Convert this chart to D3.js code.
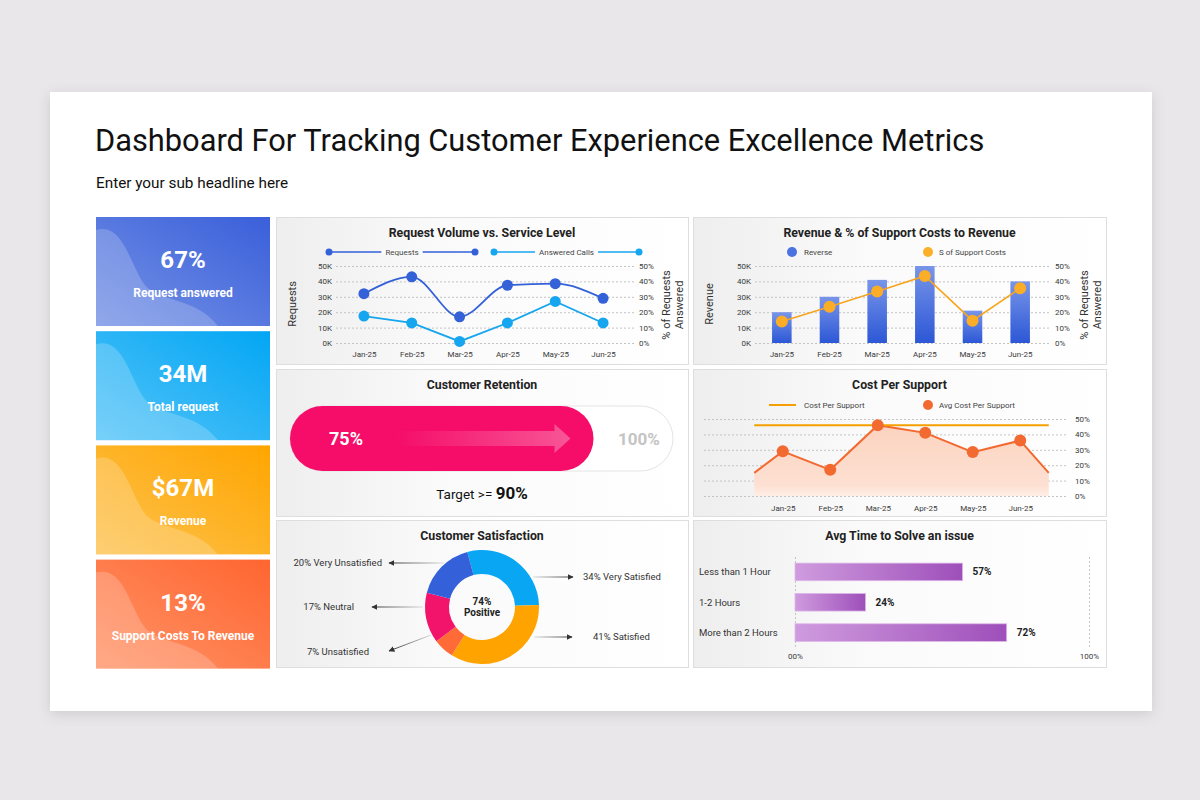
<!DOCTYPE html>
<html>
<head>
<meta charset="utf-8">
<script src="https://cdn.jsdelivr.net/npm/d3@7"></script>
<style>
  html, body { margin: 0; padding: 0; background: #e9e7e9; }
  svg { display: block; }
  svg text { font-family: Roboto, "Noto Sans", sans-serif; }
  .tick text { font-size: 8px; fill: #3a3a3a; }
  .grid line { stroke: #c4c4c4; stroke-dasharray: 2,2; }
  .grid text { display: none; }
  .domain { display: none; }
  .ptitle { font-size: 12.3px; font-weight: 700; fill: #222; }
  .legend { font-size: 8px; fill: #444; }
  .atitle { font-size: 11px; fill: #333; }
</style>
</head>
<body>
<svg id="dash" width="1200" height="800"></svg>
<script>
"use strict";

// ---- data ----
var months = ["Jan-25", "Feb-25", "Mar-25", "Apr-25", "May-25", "Jun-25"];
var requests = [32, 43, 17, 37.5, 38.5, 29];              // thousands
var answeredCalls = [17.5, 13, 1, 13, 27, 13];            // %
var revenue = [20, 30, 41, 50, 21, 40];                   // thousands
var supportCostShare = [14, 23.5, 33.5, 43.5, 14.5, 35.5]; // %
var costPerSupport = 46;                                  // % (flat line)
var avgCostPerSupport = [29, 17, 46, 41, 28.5, 36];       // %
var avgCostEdges = [15, 15];                              // % at left / right edge
var kTicks = [0, 10, 20, 30, 40, 50];
var pctTicks = [0, 10, 20, 30, 40, 50];

var kpiValues = ["67%", "34M", "$67M", "13%"];
var kpiLabels = ["Request answered", "Total request", "Revenue", "Support Costs To Revenue"];

var retention = 75;
var retentionMax = 100;
var retentionTarget = 90;

var satisfactionLabels = ["Very Satisfied", "Satisfied", "Unsatisfied", "Neutral", "Very Unsatisfied"];
var satisfactionValues = [34, 41, 7, 17, 20];
var positiveShare = 74;

var solveCategories = ["Less than 1 Hour", "1-2 Hours", "More than 2 Hours"];
var solveShare = [57, 24, 72];
var solveTicks = [0, 100];

// ---- colours ----
var blue = '#3461d8', sky = '#16a6ef', amber = '#f7a51e', coral = '#f26a30', pink = '#f50d69';
var satColors = ['#09a6f3', '#ffa300', '#ff6b36', '#f2136a', '#3461d9'];
var cardColors = [
    ['#7592e5', '#3a5fda'],
    ['#55c4f8', '#03a6f4'],
    ['#fdc24f', '#ffa500'],
    ['#ff9468', '#ff6530']
];

var svg = d3.select('#dash');
var defs = svg.append('defs');

function linGrad(id, x1, y1, x2, y2, stops) {
    var g = defs.append('linearGradient').attr('id', id)
        .attr('x1', x1).attr('y1', y1).attr('x2', x2).attr('y2', y2);
    stops.forEach(function (s) {
        g.append('stop').attr('offset', s[0]).attr('stop-color', s[1])
            .attr('stop-opacity', s[2] == null ? 1 : s[2]);
    });
    return g;
}

var shadow = defs.append('filter').attr('id', 'shadow')
    .attr('x', '-5%').attr('y', '-5%').attr('width', '110%').attr('height', '115%');
shadow.append('feDropShadow').attr('dx', 0).attr('dy', 3).attr('stdDeviation', 7)
    .attr('flood-color', '#000').attr('flood-opacity', 0.12);

linGrad('panelBg', 0, 0, 1, 0, [[0, '#eeeeee'], [0.4, '#fafafa'], [1, '#ffffff']]);
linGrad('barBlue', 0, 0, 0, 1, [[0, '#7895e9'], [1, '#2c57d6']]);
linGrad('areaFill', 0, 0, 0, 1, [[0, '#fcd3bf'], [0.85, '#fde0d2'], [1, '#feeee6']]);
linGrad('barPurple', 0, 0, 1, 0, [[0, '#cf9bde'], [1, '#9e4fba']]);
linGrad('arrowFill', 0, 0, 1, 0, [[0, '#ffffff', 0], [1, '#ffffff', 0.3]]);
cardColors.forEach(function (c, i) {
    linGrad('card' + i, 0, 1, 1, 0, [[0, c[0]], [1, c[1]]]);
});

defs.append('marker').attr('id', 'arrowHead')
    .attr('viewBox', '0 0 10 10').attr('refX', 9).attr('refY', 5)
    .attr('markerWidth', 6).attr('markerHeight', 6).attr('orient', 'auto')
  .append('path').attr('d', 'M0,0 L10,5 L0,10 z').attr('fill', '#333');

// slide
svg.append('rect').attr('x', 50).attr('y', 92).attr('width', 1102).attr('height', 619)
    .attr('fill', '#fff').attr('filter', 'url(#shadow)');

svg.append('text').attr('x', 95).attr('y', 151)
    .attr('font-size', 30.8).attr('fill', '#111')
    .text('Dashboard For Tracking Customer Experience Excellence Metrics');
svg.append('text').attr('x', 96).attr('y', 188)
    .attr('font-size', 15.3).attr('fill', '#111')
    .text('Enter your sub headline here');

// ---- KPI cards ----
var cardX = 96, cardW = 174, cardH = 109, cardStep = 114.2, cardTop = 217;
kpiValues.forEach(function (v, i) {
    var g = svg.append('g').attr('transform', 'translate(' + cardX + ',' + (cardTop + i * cardStep) + ')');
    g.append('rect').attr('width', cardW).attr('height', cardH).attr('fill', 'url(#card' + i + ')');
    g.append('path')
        .attr('d', 'M0,13 C25,6 32,40 46,64 C58,86 98,78 122,109 L0,109 Z')
        .attr('fill', '#fff').attr('fill-opacity', 0.2);
    g.append('text').attr('x', cardW / 2).attr('y', 51).attr('text-anchor', 'middle')
        .attr('font-size', 24).attr('font-weight', 700).attr('fill', '#fff').text(v);
    g.append('text').attr('x', cardW / 2).attr('y', 80).attr('text-anchor', 'middle')
        .attr('font-size', 12).attr('font-weight', 700).attr('fill', '#fff').text(kpiLabels[i]);
});

// ---- panels ----
function panel(x, y, w, h, title) {
    svg.append('rect').attr('x', x + 0.5).attr('y', y + 0.5).attr('width', w).attr('height', h)
        .attr('fill', 'url(#panelBg)').attr('stroke', '#dedede');
    svg.append('text').attr('class', 'ptitle').attr('x', x + w / 2).attr('y', y + 20)
        .attr('text-anchor', 'middle').text(title);
}

function grid(x, width, y) {
    svg.append('g').attr('class', 'grid').attr('transform', 'translate(' + x + ',0)')
        .call(d3.axisRight(y).tickValues(kTicks).tickSize(width));
}

function rotatedTitle(x, y, text) {
    svg.append('text').attr('class', 'atitle')
        .attr('transform', 'translate(' + x + ',' + y + ') rotate(-90)')
        .attr('text-anchor', 'middle').attr('dominant-baseline', 'central').text(text);
}

function lineLegend(x1, x2, y, color, label) {
    svg.append('line').attr('x1', x1).attr('x2', x2).attr('y1', y).attr('y2', y)
        .attr('stroke', color).attr('stroke-width', 1.5);
    [x1, x2].forEach(function (cx) {
        svg.append('circle').attr('cx', cx).attr('cy', y).attr('r', 3.5).attr('fill', color);
    });
    var t = svg.append('text').attr('class', 'legend').attr('x', (x1 + x2) / 2).attr('y', y + 3)
        .attr('text-anchor', 'middle').text(label);
    var b = t.node().getBBox();
    svg.insert('rect', function () { return t.node(); })
        .attr('x', b.x - 4).attr('y', y - 2).attr('width', b.width + 8).attr('height', 4).attr('fill', '#fdfdfd');
}

panel(276, 217, 412, 147, 'Request Volume vs. Service Level');
panel(693, 217, 413, 147, 'Revenue & % of Support Costs to Revenue');
panel(276, 369, 412, 147, 'Customer Retention');
panel(693, 369, 413, 147, 'Cost Per Support');
panel(276, 520, 412, 147, 'Customer Satisfaction');
panel(693, 520, 413, 147, 'Avg Time to Solve an issue');

// ---- Request Volume vs. Service Level ----
(function () {
    var x = d3.scalePoint().domain(months).range([340, 627]).padding(0.5);
    var y = d3.scaleLinear().domain([0, 50]).range([343, 266]);
    var y2 = d3.scaleLinear().domain([0, 50]).range([343, 266]);

    grid(336, 298, y);
    svg.append('g').attr('transform', 'translate(336,0)')
        .call(d3.axisLeft(y).tickValues(kTicks).tickSize(0).tickPadding(4).tickFormat(function (d) { return d + 'K'; }));
    svg.append('g').attr('transform', 'translate(634,0)')
        .call(d3.axisRight(y2).tickValues(pctTicks).tickSize(0).tickPadding(5).tickFormat(function (d) { return d + '%'; }));
    svg.append('g').attr('transform', 'translate(0,343)')
        .call(d3.axisBottom(x).tickSize(0).tickPadding(8));

    rotatedTitle(292, 304, 'Requests');
    rotatedTitle(666, 305, '% of Requests');
    rotatedTitle(679, 305, 'Answered');

    lineLegend(329, 475, 252, blue, 'Requests');
    lineLegend(494, 639, 252, sky, 'Answered Calls');

    svg.append('path').datum(requests)
        .attr('d', d3.line().curve(d3.curveMonotoneX)
            .x(function (d, i) { return x(months[i]); }).y(function (d) { return y(d); }))
        .attr('fill', 'none').attr('stroke', blue).attr('stroke-width', 1.8);
    svg.append('path').datum(answeredCalls)
        .attr('d', d3.line()
            .x(function (d, i) { return x(months[i]); }).y(function (d) { return y2(d); }))
        .attr('fill', 'none').attr('stroke', sky).attr('stroke-width', 1.8);

    svg.selectAll('.reqDot').data(requests).enter().append('circle')
        .attr('cx', function (d, i) { return x(months[i]); }).attr('cy', function (d) { return y(d); })
        .attr('r', 5.5).attr('fill', blue);
    svg.selectAll('.ansDot').data(answeredCalls).enter().append('circle')
        .attr('cx', function (d, i) { return x(months[i]); }).attr('cy', function (d) { return y2(d); })
        .attr('r', 5.5).attr('fill', sky);
})();

// ---- Revenue & % of Support Costs ----
(function () {
    var x = d3.scaleBand().domain(months).range([758, 1044]).paddingInner(0.59).paddingOuter(0.295);
    var y = d3.scaleLinear().domain([0, 50]).range([343, 266]);
    var y2 = d3.scaleLinear().domain([0, 50]).range([343, 266]);
    var cx = function (m) { return x(m) + x.bandwidth() / 2; };

    grid(755, 295, y);
    svg.append('g').attr('transform', 'translate(755,0)')
        .call(d3.axisLeft(y).tickValues(kTicks).tickSize(0).tickPadding(4).tickFormat(function (d) { return d + 'K'; }));
    svg.append('g').attr('transform', 'translate(1050,0)')
        .call(d3.axisRight(y2).tickValues(pctTicks).tickSize(0).tickPadding(5).tickFormat(function (d) { return d + '%'; }));
    svg.append('g').attr('transform', 'translate(0,343)')
        .call(d3.axisBottom(x).tickSize(0).tickPadding(8));

    rotatedTitle(709, 304, 'Revenue');
    rotatedTitle(1084, 305, '% of Requests');
    rotatedTitle(1097, 305, 'Answered');

    svg.append('circle').attr('cx', 792).attr('cy', 252).attr('r', 5).attr('fill', '#4a72e0');
    svg.append('text').attr('class', 'legend').attr('x', 804).attr('y', 255).text('Reverse');
    svg.append('circle').attr('cx', 928).attr('cy', 252).attr('r', 5).attr('fill', '#fbb02a');
    svg.append('text').attr('class', 'legend').attr('x', 939).attr('y', 255).text('S of Support Costs');

    svg.selectAll('.revBar').data(revenue).enter().append('rect')
        .attr('x', function (d, i) { return x(months[i]); })
        .attr('y', function (d) { return y(d); })
        .attr('width', x.bandwidth())
        .attr('height', function (d) { return y(0) - y(d); })
        .attr('fill', 'url(#barBlue)');

    svg.append('path').datum(supportCostShare)
        .attr('d', d3.line().x(function (d, i) { return cx(months[i]); }).y(function (d) { return y2(d); }))
        .attr('fill', 'none').attr('stroke', amber).attr('stroke-width', 1.6);
    svg.selectAll('.costDot').data(supportCostShare).enter().append('circle')
        .attr('cx', function (d, i) { return cx(months[i]); }).attr('cy', function (d) { return y2(d); })
        .attr('r', 6).attr('fill', '#fbad27');
})();

// ---- Cost Per Support ----
(function () {
    var x = d3.scalePoint().domain(months).range([759, 1044]).padding(0.5);
    var y = d3.scaleLinear().domain([0, 50]).range([496, 419]);
    var edgeL = x(months[0]) - x.step() * 0.6;
    var edgeR = x(months[months.length - 1]) + x.step() * 0.6;

    grid(704, 363, y);
    svg.append('g').attr('transform', 'translate(1067,0)')
        .call(d3.axisRight(y).tickValues(pctTicks).tickSize(0).tickPadding(8).tickFormat(function (d) { return d + '%'; }));
    svg.append('g').attr('transform', 'translate(0,496)')
        .call(d3.axisBottom(x).tickSize(0).tickPadding(9));

    svg.append('line').attr('x1', 769).attr('x2', 796).attr('y1', 405).attr('y2', 405)
        .attr('stroke', '#f5a000').attr('stroke-width', 2);
    svg.append('text').attr('class', 'legend').attr('x', 804).attr('y', 408).text('Cost Per Support');
    svg.append('circle').attr('cx', 928).attr('cy', 405).attr('r', 5).attr('fill', coral);
    svg.append('text').attr('class', 'legend').attr('x', 939).attr('y', 408).text('Avg Cost Per Support');

    var pts = [[edgeL, avgCostEdges[0]]]
        .concat(avgCostPerSupport.map(function (v, i) { return [x(months[i]), v]; }))
        .concat([[edgeR, avgCostEdges[1]]]);

    svg.append('path').datum(pts)
        .attr('d', d3.area().x(function (d) { return d[0]; }).y0(y(0)).y1(function (d) { return y(d[1]); }))
        .attr('fill', 'url(#areaFill)');
    svg.append('path').datum(pts)
        .attr('d', d3.line().x(function (d) { return d[0]; }).y(function (d) { return y(d[1]); }))
        .attr('fill', 'none').attr('stroke', coral).attr('stroke-width', 2);

    svg.append('line').attr('x1', edgeL).attr('x2', edgeR)
        .attr('y1', y(costPerSupport)).attr('y2', y(costPerSupport))
        .attr('stroke', '#f5a000').attr('stroke-width', 2);

    svg.selectAll('.avgDot').data(avgCostPerSupport).enter().append('circle')
        .attr('cx', function (d, i) { return x(months[i]); }).attr('cy', function (d) { return y(d); })
        .attr('r', 6).attr('fill', coral);
})();

// ---- Customer Retention ----
(function () {
    var tx = 290, ty = 406, tw = 383, th = 65, r = th / 2, cy = ty + r;
    var x = d3.scaleLinear().domain([0, retentionMax]).range([2 * r, tw]);
    var fillEnd = tx + x(retention);

    svg.append('rect').attr('x', tx).attr('y', ty).attr('width', tw).attr('height', th)
        .attr('rx', r).attr('fill', '#fff').attr('stroke', '#e4e4e4');
    svg.append('rect').attr('x', tx).attr('y', ty).attr('width', x(retention)).attr('height', th)
        .attr('rx', r).attr('fill', pink);

    var tip = fillEnd - 23;
    var arrow = [[tip - 175, cy - 7.5], [tip - 16, cy - 7.5], [tip - 16, cy - 14.5], [tip, cy],
                 [tip - 16, cy + 14.5], [tip - 16, cy + 7.5], [tip - 175, cy + 7.5]];
    svg.append('path').attr('d', d3.line()(arrow) + 'Z').attr('fill', 'url(#arrowFill)');

    svg.append('text').attr('x', 329).attr('y', cy + 6.5)
        .attr('font-size', 18).attr('font-weight', 700).attr('fill', '#fff').text(retention + '%');
    svg.append('text').attr('x', 618).attr('y', cy + 6.5)
        .attr('font-size', 17).attr('font-weight', 700).attr('fill', '#c4c4c4').text(retentionMax + '%');

    var t = svg.append('text').attr('x', 482).attr('y', 499).attr('text-anchor', 'middle').attr('fill', '#111');
    t.append('tspan').attr('font-size', 13.5).text('Target >= ');
    t.append('tspan').attr('font-size', 17).attr('font-weight', 700).text(retentionTarget + '%');
})();

// ---- Customer Satisfaction ----
(function () {
    var cx = 482, cy = 607;
    var start = -0.26;
    var pie = d3.pie().sort(null).startAngle(start).endAngle(2 * Math.PI + start);
    var arc = d3.arc().innerRadius(33).outerRadius(57);

    svg.append('g').attr('transform', 'translate(' + cx + ',' + cy + ')')
        .selectAll('path').data(pie(satisfactionValues)).enter().append('path')
        .attr('d', arc).attr('fill', function (d, i) { return satColors[i]; });

    svg.append('text').attr('x', cx).attr('y', 605).attr('text-anchor', 'middle')
        .attr('font-size', 10).attr('font-weight', 700).attr('fill', '#222').text(positiveShare + '%');
    svg.append('text').attr('x', cx).attr('y', 616).attr('text-anchor', 'middle')
        .attr('font-size', 10).attr('font-weight', 700).attr('fill', '#222').text('Positive');

    // callout placement, same order as satisfactionLabels
    var callouts = [
        { from: [533, 577], to: [573, 577], tx: 583, ty: 580, anchor: 'start' },
        { from: [534, 637], to: [572, 637], tx: 593, ty: 640, anchor: 'start' },
        { from: [431, 635], to: [389, 651], tx: 369, ty: 655, anchor: 'end' },
        { from: [423, 607], to: [372, 607], tx: 354, ty: 610, anchor: 'end' },
        { from: [444, 563], to: [389, 563], tx: 382, ty: 566, anchor: 'end' }
    ];
    callouts.forEach(function (c, i) {
        linGrad('callout' + i, c.from[0], c.from[1], c.to[0], c.to[1], [[0, '#dddddd'], [1, '#333333']])
            .attr('gradientUnits', 'userSpaceOnUse');
        svg.append('line').attr('x1', c.from[0]).attr('y1', c.from[1]).attr('x2', c.to[0]).attr('y2', c.to[1])
            .attr('stroke', 'url(#callout' + i + ')').attr('stroke-width', 1).attr('marker-end', 'url(#arrowHead)');
        svg.append('text').attr('x', c.tx).attr('y', c.ty).attr('text-anchor', c.anchor)
            .attr('font-size', 9.5).attr('fill', '#333')
            .text(satisfactionValues[i] + '% ' + satisfactionLabels[i]);
    });
})();

// ---- Avg Time to Solve an issue ----
(function () {
    var x = d3.scaleLinear().domain([0, 100]).range([795, 1089]);
    var y = d3.scaleBand().domain(solveCategories).range([554, 650.5]).paddingInner(0.42).paddingOuter(0.3);

    svg.append('g').attr('class', 'grid').attr('transform', 'translate(0,647)')
        .call(d3.axisBottom(x).tickValues(solveTicks).tickSize(-91));
    svg.append('g').attr('transform', 'translate(0,647)')
        .call(d3.axisBottom(x).tickValues(solveTicks).tickSize(0).tickPadding(6)
            .tickFormat(function (d) { return d === 0 ? '00%' : d + '%'; }));

    svg.selectAll('.solveLbl').data(solveCategories).enter().append('text')
        .attr('x', 699).attr('y', function (d) { return y(d) + y.bandwidth() / 2 + 3.5; })
        .attr('font-size', 9.5).attr('fill', '#333').text(function (d) { return d; });

    svg.selectAll('.solveBar').data(solveShare).enter().append('rect')
        .attr('x', x(0))
        .attr('y', function (d, i) { return y(solveCategories[i]); })
        .attr('width', function (d) { return x(d) - x(0); })
        .attr('height', y.bandwidth())
        .attr('fill', 'url(#barPurple)').attr('stroke', '#dcb7e8').attr('stroke-width', 0.8);

    svg.selectAll('.solveVal').data(solveShare).enter().append('text')
        .attr('x', function (d) { return x(d) + 10; })
        .attr('y', function (d, i) { return y(solveCategories[i]) + y.bandwidth() / 2 + 3.5; })
        .attr('font-size', 10).attr('font-weight', 700).attr('fill', '#222')
        .text(function (d) { return d + '%'; });
})();
</script>
</body>
</html>
